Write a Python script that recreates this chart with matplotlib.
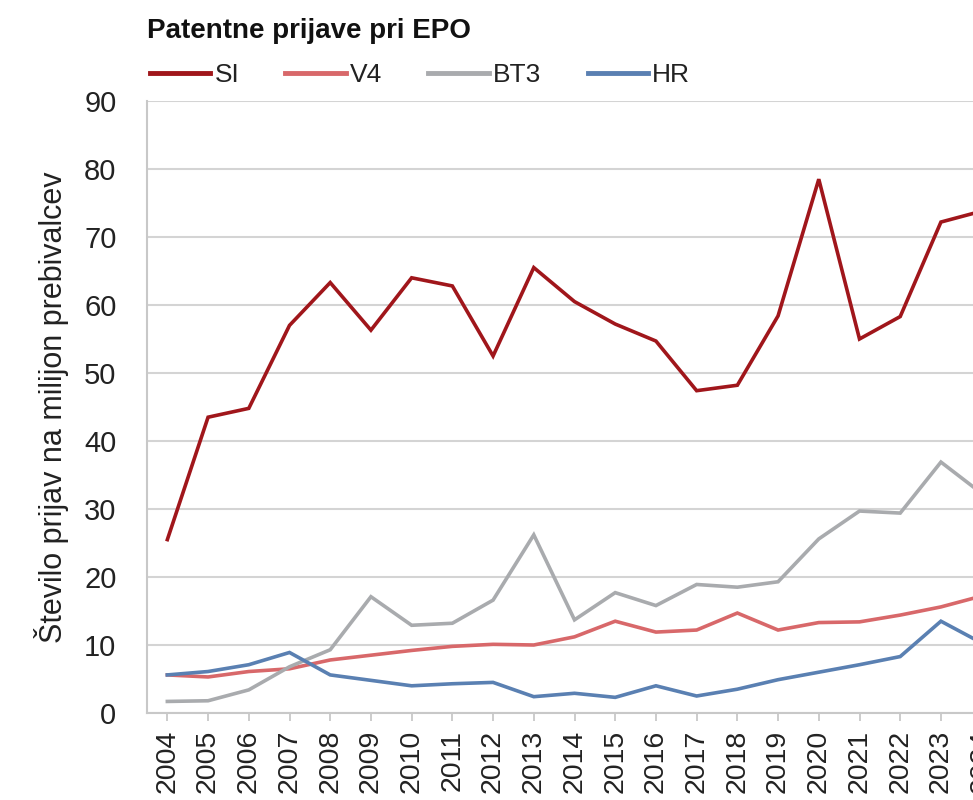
import matplotlib
matplotlib.use("Agg")
import matplotlib.pyplot as plt
from matplotlib.ticker import MultipleLocator

years = [str(y) for y in range(2004, 2025)]
si  = [25.5, 43.5, 44.8, 57.0, 63.3, 56.3, 64.0, 62.8, 52.5, 65.5, 60.5,
       57.2, 54.7, 47.4, 48.2, 58.4, 78.5, 55.0, 58.3, 72.2, 73.8]
v4  = [5.6, 5.3, 6.1, 6.5, 7.8, 8.5, 9.2, 9.8, 10.1, 10.0, 11.2,
       13.5, 11.9, 12.2, 14.7, 12.2, 13.3, 13.4, 14.4, 15.6, 17.2]
bt3 = [1.7, 1.8, 3.4, 6.8, 9.3, 17.1, 12.9, 13.2, 16.6, 26.2, 13.7,
       17.7, 15.8, 18.9, 18.5, 19.3, 25.6, 29.7, 29.4, 36.9, 32.3]
hr  = [5.6, 6.1, 7.1, 8.9, 5.6, 4.8, 4.0, 4.3, 4.5, 2.4, 2.9,
       2.3, 4.0, 2.5, 3.5, 4.9, 6.0, 7.1, 8.3, 13.5, 10.3]

series = [("SI", si, "#A0161B"), ("V4", v4, "#D8686A"),
          ("BT3", bt3, "#A9ABAE"), ("HR", hr, "#5A80B2")]

plt.rcParams['font.family'] = ['Liberation Sans', 'DejaVu Sans']

fig = plt.figure(figsize=(9.73, 8.0), dpi=100)
ax = fig.add_axes([147/973, 1-713/800, (1002-147)/973, (713-101)/800])

x = list(range(len(years)))
for name, vals, col in series:
    ax.plot(x, vals, color=col, lw=2.6, label=name, solid_joinstyle='miter')

ax.set_xlim(-0.5, len(years) - 0.5)
ax.set_ylim(0, 90)
ax.yaxis.set_major_locator(MultipleLocator(10))
ax.set_xticks(x)
ax.set_xticklabels(years, rotation=90, fontsize=20.5, color="#222222")
ax.tick_params(axis='y', length=0, labelsize=21, labelcolor="#222222", pad=22)
ax.tick_params(axis='x', length=6, width=1.3, color="#C8C8C8", pad=6)
ax.grid(axis='y', color="#D4D4D4", lw=1.5)
ax.set_axisbelow(True)
for s in ['top', 'right']:
    ax.spines[s].set_visible(False)
for s in ['left', 'bottom']:
    ax.spines[s].set_color("#C8C8C8")
    ax.spines[s].set_linewidth(1.5)

ax.set_ylabel("Število prijav na milijon prebivalcev", fontsize=22, color="#222222", labelpad=11)

fig.text(147/973, 1-31/800, "Patentne prijave pri EPO",
         fontweight='bold', fontsize=20, va='center', ha='left', color="#111111")

leg = ax.legend(loc='center left', bbox_to_anchor=(126/973, 1-75/800),
                bbox_transform=fig.transFigure, ncol=4, frameon=False,
                handlelength=2.3, handletextpad=0.15, columnspacing=1.75,
                prop={'size': 19})
for t in leg.get_texts():
    t.set_color("#222222")
for l in leg.get_lines():
    l.set_linewidth(3.5)

fig.savefig("out.png", dpi=100)
